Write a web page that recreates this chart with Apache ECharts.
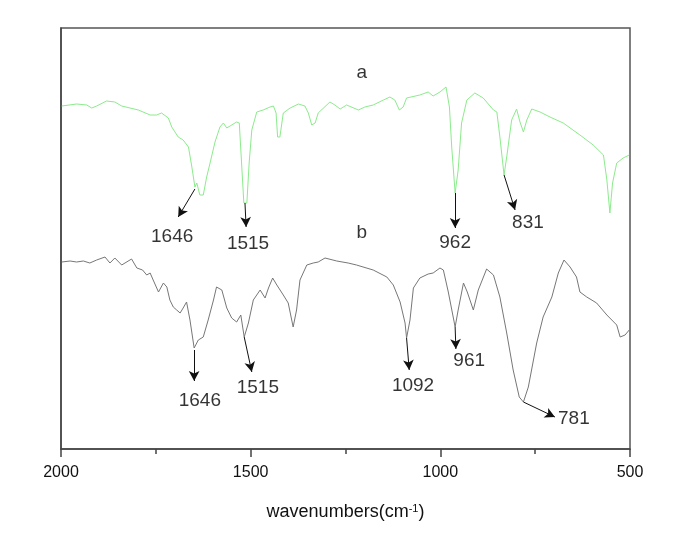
<!DOCTYPE html>
<html>
<head>
<meta charset="utf-8">
<script src="https://cdn.jsdelivr.net/npm/echarts@6/dist/echarts.min.js"></script>
<style>
  html, body { margin: 0; padding: 0; background: #fff; }
  #chart { width: 685px; height: 547px; }
</style>
</head>
<body>
<div id="chart"></div>
<script>
// spectrum a (green)
var wnA = [1998,1959,1932,1919,1906,1880,1858,1840,1818,1796,1765,1748,1735,1717,1708,1691,1678,1664,1655,1647,1642,1634,1625,1616,1607,1594,1581,1572,1563,1537,1530,1524,1518,1510,1504,1497,1484,1467,1449,1440,1433,1429,1423,1414,1396,1374,1357,1348,1339,1330,1322,1291,1278,1264,1247,1216,1199,1177,1150,1133,1120,1108,1098,1089,1054,1032,1019,1001,985,976,970,961,953,944,930,909,887,860,851,843,832,825,812,799,790,781,772,759,737,711,676,632,597,570,561,553,546,535,518,502];
var tA = [343,345,344,341,343,348,347,343,341,339,334,334,336,331,322,312,309,302,282,262,266,254,254,272,286,307,322,326,321,327,326,286,246,246,286,319,337,339,342,343,336,312,312,336,341,345,343,336,324,326,336,347,344,340,344,339,342,344,349,352,349,339,342,351,354,357,353,357,362,342,302,256,279,326,349,356,351,339,337,312,274,292,329,340,327,317,329,340,337,332,326,314,304,294,269,236,266,286,291,294];

// spectrum b (grey)
var wnB = [1998,1976,1959,1941,1924,1906,1884,1871,1858,1840,1814,1800,1785,1774,1765,1757,1743,1730,1721,1713,1704,1695,1686,1678,1669,1660,1649,1638,1625,1612,1598,1590,1576,1563,1550,1537,1526,1517,1506,1493,1475,1462,1453,1442,1431,1414,1401,1388,1379,1370,1352,1335,1322,1304,1273,1243,1221,1177,1141,1124,1106,1093,1089,1080,1071,1054,1032,1019,1001,992,979,961,953,939,929,913,900,878,860,843,825,808,792,781,768,746,729,706,689,674,658,641,632,614,588,561,535,526,513,502];
var tB = [187,188,187,188,186,189,192,186,191,184,190,181,179,174,176,169,157,166,162,149,142,139,136,141,147,129,101,109,112,129,149,162,159,141,131,127,134,112,126,149,159,151,161,171,164,154,146,122,139,169,184,186,187,191,188,186,184,179,172,164,147,126,111,129,161,171,175,176,181,179,157,122,139,166,157,139,159,180,174,152,116,79,52,47,62,106,132,152,176,189,182,172,157,152,146,134,124,112,114,119];

// peak labels: text, label position, arrow start, arrow end
var peakText  = ['1646','1515','962','831','1646','1515','1092','961','781'];
var peakLabel = [[1707,212],[1507,205],[961,206],[769,226],[1634,48],[1481,61],[1072,63],[924,88],[648,30]];
var arrowFrom = [[1647,260],[1515,246],[961,256],[832,274],[1649,99],[1517,112],[1089,111],[961,122],[781,47]];
var arrowTo   = [[1691,232],[1512,222],[961,221],[803,239],[1649,68],[1497,77],[1082,79],[959,100],[698,32]];

var curveNames = ['a','b'];
var curveNamePos = [[1207,376],[1207,216]];

function pairs(x, y) {
  return x.map(function (v, i) { return [v, y[i]]; });
}

var chart = echarts.init(document.getElementById('chart'));
var font = 'Liberation Sans, Arial, sans-serif';

var option = {
  backgroundColor: '#fff',
  animation: false,
  textStyle: { fontFamily: font },
  grid: {
    left: 61, right: 55, top: 28, bottom: 98,
    show: true, borderColor: '#555', borderWidth: 1.5
  },
  xAxis: {
    type: 'value',
    inverse: true,
    min: 500, max: 2000, interval: 500,
    axisLine: { show: true, lineStyle: { color: '#444', width: 1.5 } },
    axisTick: { show: true, length: 8, lineStyle: { color: '#444', width: 1.5 } },
    minorTick: { show: true, splitNumber: 2, length: 5, lineStyle: { color: '#444', width: 1.5 } },
    splitLine: { show: false },
    axisLabel: {
      color: '#111', fontSize: 16, margin: 16, fontFamily: font,
      formatter: function (v) { return String(v); }
    },
    name: 'wavenumbers(cm{sup|-1})',
    nameLocation: 'middle',
    nameGap: 54,
    nameTextStyle: {
      color: '#111', fontSize: 18, fontFamily: font,
      rich: { sup: { fontSize: 11, verticalAlign: 'top', padding: [0, 0, 8, 0], color: '#111' } }
    }
  },
  yAxis: {
    type: 'value',
    min: 0, max: 421,
    axisLine: { show: true, lineStyle: { color: '#444', width: 1.5 } },
    axisTick: { show: false },
    axisLabel: { show: false },
    splitLine: { show: false }
  },
  series: [
    {
      name: 'a', type: 'line', data: pairs(wnA, tA), showSymbol: false,
      lineStyle: { color: '#8ceb8c', width: 1 },
      markLine: {
        silent: true, symbol: ['none', 'arrow'], symbolSize: [8, 10],
        label: { show: false },
        lineStyle: { color: '#111', width: 1, type: 'solid' },
        data: arrowFrom.map(function (p, i) {
          return [{ coord: p }, { coord: arrowTo[i] }];
        })
      }
    },
    {
      name: 'b', type: 'line', data: pairs(wnB, tB), showSymbol: false,
      lineStyle: { color: '#777', width: 1 }
    },
    {
      name: 'labels', type: 'scatter', symbolSize: 0, silent: true,
      data: peakLabel.map(function (p, i) { return { value: p, name: peakText[i] }; })
        .concat(curveNamePos.map(function (p, i) { return { value: p, name: curveNames[i] }; })),
      label: {
        show: true, position: 'inside', formatter: '{b}',
        color: '#000', fontSize: 19, fontFamily: font
      }
    }
  ]
};
chart.setOption(option);
</script>
</body>
</html>
